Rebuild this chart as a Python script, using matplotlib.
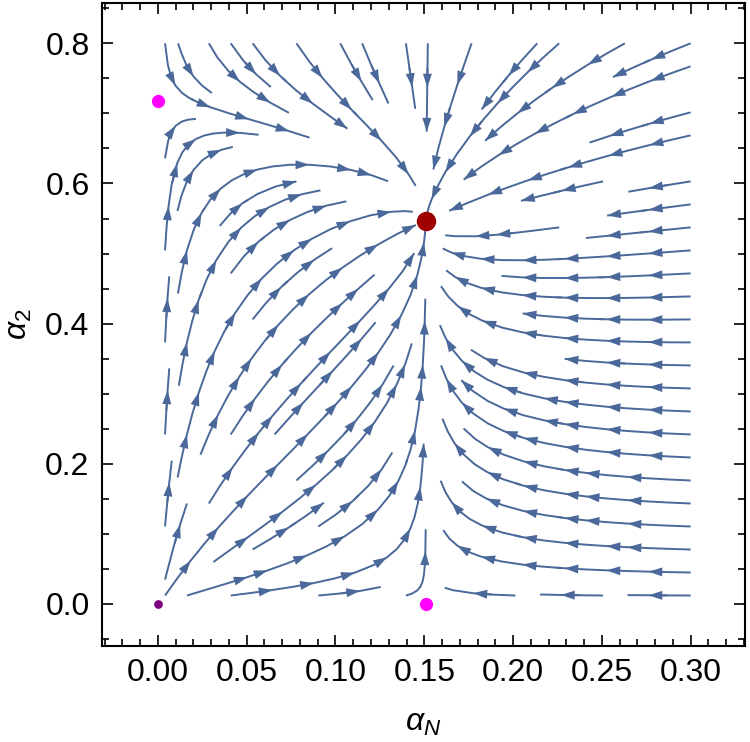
import numpy as np
import matplotlib
matplotlib.use('Agg')
import matplotlib.pyplot as plt
from matplotlib.patches import FancyArrowPatch, ArrowStyle

# fixed points
fp_x = [0.0, 0.0, 0.151, 0.151]
fp_y = [0.0, 0.718, 0.0, 0.547]
fp_colors = ['#800080', '#FF00FF', '#FF00FF', '#A00000']
fp_sizes = [6.3, 9.5, 9.5, 14]

# model parameters (competition type system matching the fixed points)
aN_star = 0.151      # alpha_N equilibrium
a2_star = 0.718      # alpha_2 equilibrium without N
coupling = (0.718 - 0.547) / 0.151
power_N = 1.15
rate_N = 1.0
rate_2 = 0.11

x_ticks = [0.00, 0.05, 0.10, 0.15, 0.20, 0.25, 0.30]
y_ticks = [0.0, 0.2, 0.4, 0.6, 0.8]

line_color = '#4A6899'

plt.rcParams['font.family'] = ['Liberation Sans', 'DejaVu Sans']
plt.rcParams['mathtext.fontset'] = 'custom'
plt.rcParams['mathtext.it'] = 'Liberation Sans:italic'
plt.rcParams['mathtext.rm'] = 'Liberation Sans'

fig = plt.figure(figsize=(7.5, 7.42), dpi=100)
ax = fig.add_axes([0.136, 0.1294, 0.857, 0.867])

ax.set_xlim(-0.0315, 0.3305)
ax.set_ylim(-0.06, 0.858)

xs = np.linspace(0.004, 0.3, 150)
ys = np.linspace(0.012, 0.8, 150)
X, Y = np.meshgrid(xs, ys)
U = rate_N * X ** power_N * (aN_star - X)
V = rate_2 * Y * (a2_star - Y - coupling * X)

strm = ax.streamplot(X, Y, U, V, density=0.85, color=line_color, linewidth=1.4,
                     arrowstyle='-', minlength=0.1)

# each segment is one whole streamline: put arrows along it
head = ArrowStyle('-|>', head_length=0.55, head_width=0.18)
spacing = 40  # pixels between arrows
for ln in strm.lines.get_segments():
    pts = np.asarray(ln)
    if len(pts) < 2:
        continue
    disp = ax.transData.transform(pts)
    d = np.hypot(*np.diff(disp, axis=0).T)
    cum = np.concatenate([[0], np.cumsum(d)])
    total = cum[-1]
    if total < 20:
        continue
    n = max(1, int(total // spacing))
    offs = (total - (n - 1) * spacing) / 2
    for k in range(n):
        t = offs + k * spacing + 6
        i = np.searchsorted(cum, t)
        i = min(max(i, 1), len(pts) - 1)
        p0, p1 = pts[i - 1], pts[i]
        arr = FancyArrowPatch(p0, p1, arrowstyle=head, mutation_scale=18,
                              color=line_color, lw=0, shrinkA=0, shrinkB=0)
        ax.add_patch(arr)

for x, y, c, s in zip(fp_x, fp_y, fp_colors, fp_sizes):
    ax.plot(x, y, 'o', color=c, markersize=s, markeredgewidth=0, zorder=5)

ax.set_xticks(x_ticks)
ax.set_xticklabels(['%.2f' % t for t in x_ticks])
ax.set_yticks(y_ticks)
ax.set_yticklabels(['%.1f' % t for t in y_ticks])
ax.set_xticks(np.arange(-0.03, 0.331, 0.01), minor=True)
ax.set_yticks(np.arange(-0.05, 0.86, 0.05), minor=True)
ax.tick_params(which='both', direction='in', top=True, right=True, labelsize=23, width=1.2)
ax.tick_params(which='major', length=8, pad=9)
ax.tick_params(which='minor', length=5)
for sp in ax.spines.values():
    sp.set_linewidth(1.5)

ax.set_xlabel(r'$\alpha_N$', fontsize=23, labelpad=14)
ax.set_ylabel(r'$\alpha_2$', fontsize=23, labelpad=8)

fig.savefig('out.png', dpi=100)
